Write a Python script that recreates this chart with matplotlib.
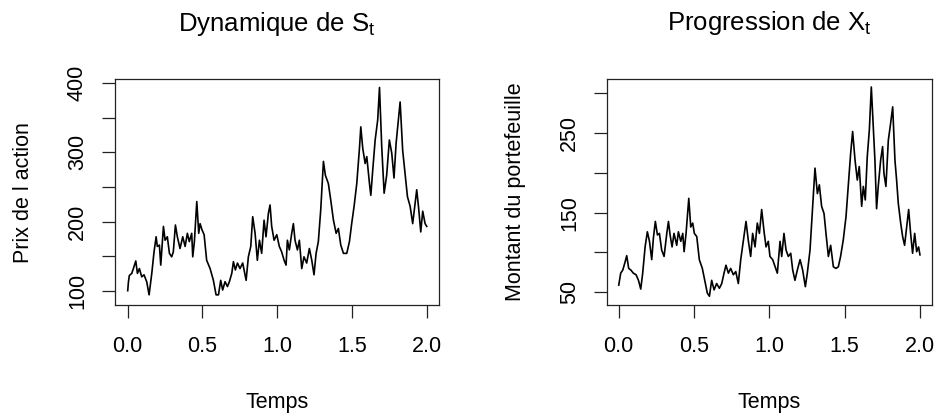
import matplotlib
matplotlib.use("Agg")
import matplotlib.pyplot as plt

plt.rcParams['font.family'] = ['Liberation Sans', 'DejaVu Sans']
plt.rcParams['mathtext.default'] = 'regular'

# Dynamique du prix de l'action S_t
temps_s = [0.0, 0.005, 0.011, 0.027, 0.038, 0.054, 0.065, 0.078, 0.094, 0.109,
           0.127, 0.143, 0.161, 0.176, 0.190, 0.198, 0.212, 0.221, 0.239, 0.250,
           0.265, 0.279, 0.294, 0.305, 0.319, 0.332, 0.350, 0.368, 0.384, 0.399,
           0.412, 0.428, 0.435, 0.446, 0.462, 0.475, 0.484, 0.497, 0.511, 0.528,
           0.551, 0.573, 0.591, 0.607, 0.622, 0.635, 0.651, 0.667, 0.680, 0.696,
           0.707, 0.720, 0.734, 0.751, 0.769, 0.785, 0.792, 0.807, 0.823, 0.836,
           0.852, 0.867, 0.881, 0.896, 0.912, 0.925, 0.941, 0.952, 0.963, 0.979,
           0.997, 1.014, 1.030, 1.046, 1.059, 1.068, 1.081, 1.097, 1.108, 1.119,
           1.135, 1.148, 1.164, 1.179, 1.197, 1.215, 1.231, 1.246, 1.260, 1.275,
           1.291, 1.309, 1.322, 1.342, 1.358, 1.376, 1.394, 1.409, 1.425, 1.443,
           1.465, 1.483, 1.498, 1.514, 1.532, 1.550, 1.559, 1.572, 1.588, 1.599,
           1.617, 1.626, 1.639, 1.655, 1.672, 1.684, 1.699, 1.715, 1.732, 1.750,
           1.766, 1.781, 1.795, 1.810, 1.822, 1.839, 1.855, 1.871, 1.889, 1.906,
           1.922, 1.933, 1.946, 1.960, 1.973, 1.989, 2.0]
prix = [100, 113, 122, 125, 132, 143, 125, 132, 120, 123,
        113, 94, 125, 156, 178, 164, 166, 137, 193, 173,
        178, 154, 149, 156, 195, 178, 161, 178, 164, 183,
        171, 183, 149, 171, 229, 183, 197, 188, 181, 144,
        132, 115, 94, 94, 115, 101, 113, 106, 113, 125,
        142, 130, 140, 132, 140, 123, 115, 149, 164, 207,
        183, 144, 173, 154, 202, 178, 212, 224, 193, 173,
        181, 164, 156, 144, 137, 173, 159, 183, 197, 173,
        159, 173, 132, 149, 140, 161, 144, 123, 154, 171,
        217, 287, 267, 255, 231, 202, 183, 190, 166, 154,
        154, 171, 197, 222, 255, 306, 337, 306, 284, 294,
        255, 238, 275, 318, 347, 394, 308, 241, 267, 318,
        299, 263, 313, 347, 373, 303, 270, 236, 222, 197,
        226, 246, 219, 185, 215, 197, 193]

# Progression du portefeuille X_t
temps_x = [0.0, 0.013, 0.027, 0.042, 0.053, 0.066, 0.080, 0.097, 0.115, 0.131,
           0.146, 0.159, 0.175, 0.190, 0.204, 0.219, 0.230, 0.243, 0.257, 0.270,
           0.285, 0.301, 0.319, 0.330, 0.341, 0.354, 0.367, 0.385, 0.396, 0.412,
           0.425, 0.434, 0.447, 0.465, 0.478, 0.491, 0.502, 0.518, 0.535, 0.555,
           0.573, 0.588, 0.602, 0.617, 0.633, 0.650, 0.668, 0.684, 0.699, 0.712,
           0.728, 0.743, 0.761, 0.777, 0.794, 0.810, 0.827, 0.845, 0.861, 0.876,
           0.889, 0.905, 0.920, 0.934, 0.949, 0.965, 0.978, 0.993, 1.004, 1.022,
           1.038, 1.053, 1.071, 1.082, 1.097, 1.111, 1.126, 1.142, 1.155, 1.170,
           1.186, 1.204, 1.221, 1.239, 1.252, 1.270, 1.288, 1.303, 1.319, 1.332,
           1.347, 1.363, 1.376, 1.392, 1.407, 1.425, 1.442, 1.458, 1.473, 1.491,
           1.509, 1.524, 1.540, 1.553, 1.569, 1.584, 1.597, 1.613, 1.624, 1.637,
           1.650, 1.664, 1.677, 1.690, 1.701, 1.712, 1.723, 1.739, 1.752, 1.761,
           1.774, 1.790, 1.805, 1.819, 1.834, 1.845, 1.856, 1.872, 1.885, 1.898,
           1.912, 1.925, 1.938, 1.951, 1.965, 1.978, 1.991, 2.0]
portefeuille = [59, 74, 78, 88, 96, 80, 78, 74, 72, 65,
                54, 74, 107, 126, 114, 91, 118, 139, 122, 124,
                103, 95, 124, 139, 122, 107, 124, 109, 126, 114,
                124, 101, 124, 168, 132, 137, 124, 120, 91, 80,
                63, 49, 45, 65, 53, 61, 55, 61, 74, 84,
                74, 80, 72, 76, 61, 91, 114, 139, 114, 95,
                124, 107, 137, 124, 154, 126, 107, 114, 95, 91,
                82, 74, 114, 95, 124, 103, 95, 99, 78, 65,
                78, 91, 78, 57, 74, 103, 158, 206, 174, 185,
                158, 149, 124, 95, 109, 82, 80, 82, 95, 116,
                145, 183, 225, 252, 216, 191, 208, 158, 183, 166,
                220, 254, 308, 259, 216, 155, 183, 216, 233, 199,
                183, 241, 262, 283, 216, 191, 162, 137, 120, 109,
                132, 154, 124, 99, 124, 101, 107, 97]

x_ticks = [0.0, 0.5, 1.0, 1.5, 2.0]
x_labels = ['0.0', '0.5', '1.0', '1.5', '2.0']
s_ticks = [100, 150, 200, 250, 300, 350, 400]
s_labels = ['100', '', '200', '', '300', '', '400']
x_port_ticks = [50, 100, 150, 200, 250, 300]
x_port_labels = ['50', '', '150', '', '250', '']

FS = 15.5


def style_axes(ax, yticks, ylabels):
    ax.set_xticks(x_ticks)
    ax.set_xticklabels(x_labels)
    ax.set_yticks(yticks)
    ax.set_yticklabels(ylabels)
    ax.tick_params(axis='both', direction='out', length=9.5, width=0.9,
                   labelsize=FS, color='#222222')
    ax.tick_params(axis='x', pad=13)
    ax.tick_params(axis='y', pad=10, labelrotation=90)
    for lab in ax.get_yticklabels():
        lab.set_va('center')
    for sp in ax.spines.values():
        sp.set_linewidth(0.9)
        sp.set_color('#222222')


fig = plt.figure(figsize=(9.36, 4.16), dpi=100)

ax1 = fig.add_axes([115 / 936, 1 - 305 / 416, 324.3 / 936, 225.7 / 416])
ax1.plot(temps_s, prix, color='black', lw=1.2)
ax1.set_xlim(-0.085, 2.084)
ax1.set_ylim(79.3, 405.8)
style_axes(ax1, s_ticks, s_labels)
ax1.set_xlabel('Temps', fontsize=FS, labelpad=25)
ax1.set_ylabel("Prix de l action", fontsize=FS, labelpad=24)
ax1.set_title(r'Dynamique de $S_t$', fontsize=18.5, pad=35)

ax2 = fig.add_axes([607.3 / 936, 1 - 305 / 416, 324.4 / 936, 226 / 416])
ax2.plot(temps_x, portefeuille, color='black', lw=1.2)
ax2.set_xlim(-0.076, 2.078)
ax2.set_ylim(34, 318)
style_axes(ax2, x_port_ticks, x_port_labels)
ax2.set_xlabel('Temps', fontsize=FS, labelpad=25)
ax2.set_ylabel('Montant du portefeuille', fontsize=FS, labelpad=24)
ax2.set_title(r'Progression de $X_t$', fontsize=18.5, pad=35)

fig.savefig('out.png', dpi=100, facecolor='white')
